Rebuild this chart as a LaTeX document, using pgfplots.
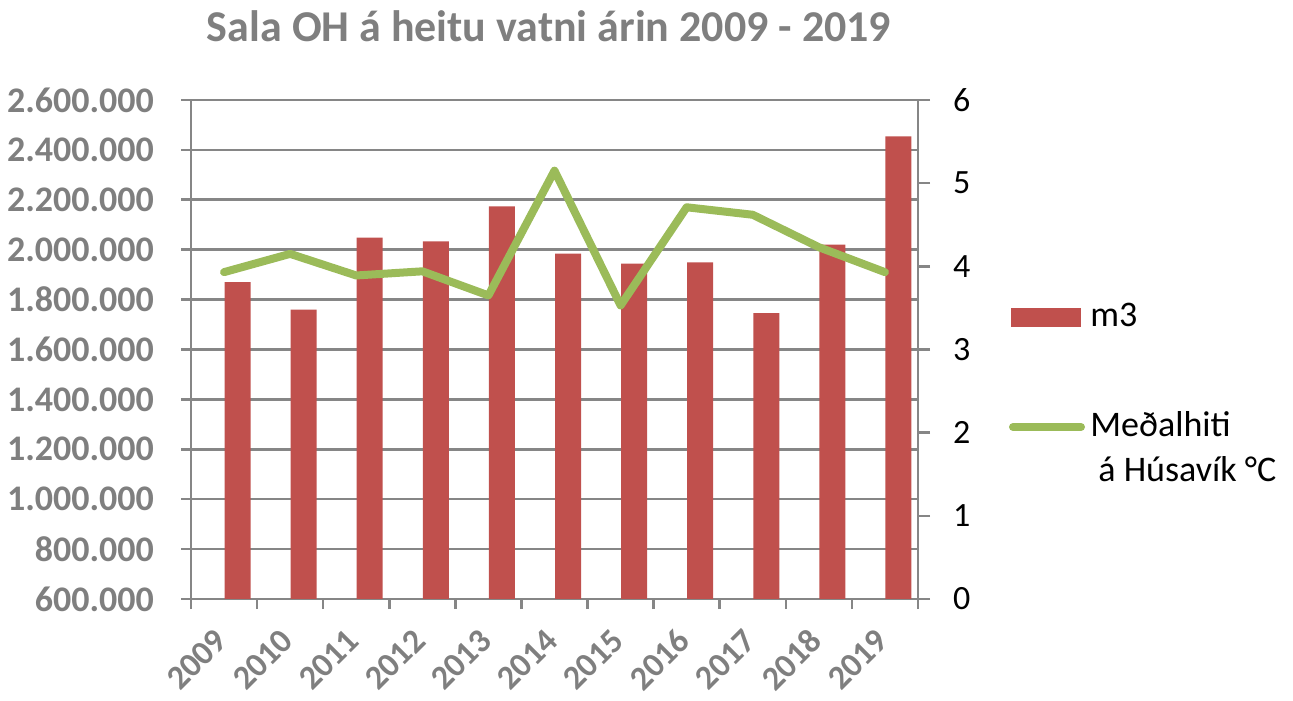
\documentclass[border=0pt]{standalone}
\usepackage{fontspec}
\setmainfont{Carlito}
\usepackage{pgfplots}
\pgfplotsset{compat=1.18}
\definecolor{tgray}{RGB}{127,127,127}
\definecolor{agray}{RGB}{134,134,134}
\definecolor{barred}{RGB}{192,80,77}
\definecolor{lgreen}{RGB}{155,187,89}
\begin{document}
\begin{tikzpicture}
\useasboundingbox (0,0) rectangle (646.5bp,350.5bp);
\begin{axis}[
  at={(95.5bp,51bp)}, anchor=south west, scale only axis,
  width=363.5bp, height=249.5bp,
  xmin=-0.5, xmax=10.5, ymin=600000, ymax=2600000,
  axis x line=bottom, axis y line=left,
  axis line style={agray, line width=1.3bp, -},
  ytick={600000,800000,1000000,1200000,1400000,1600000,1800000,2000000,2200000,2400000,2600000},
  yticklabels={600.000,800.000,1.000.000,1.200.000,1.400.000,1.600.000,1.800.000,2.000.000,2.200.000,2.400.000,2.600.000},
  ymajorgrids, grid style={agray, line width=1.3bp},
  xtick={-0.04,0.96,1.96,2.96,3.96,4.96,5.96,6.96,7.96,8.96,9.96},
  xticklabels={2009,2010,2011,2012,2013,2014,2015,2016,2017,2018,2019},
  major x tick style={draw=none},
  minor xtick={-0.5,0.5,...,10.5},
  tick align=outside, major tick length=5bp, minor tick length=5bp,
  tick style={agray, line width=1.3bp},
  scaled y ticks=false,
  yticklabel style={font=\fontsize{18bp}{21bp}\selectfont\bfseries, text=tgray, xshift=-10bp},
  xticklabel shift=13bp,
  xticklabel style={font=\fontsize{17bp}{20bp}\selectfont\bfseries, text=tgray, rotate=45, anchor=east, inner sep=0pt},
  clip=true,
]
\addplot[ybar, bar width=13bp, bar shift=6.75bp, fill=barred, draw=none] coordinates {
  (0,1870000) (1,1760000) (2,2048000) (3,2033000) (4,2174000) (5,1984000)
  (6,1944000) (7,1949000) (8,1746000) (9,2020000) (10,2454000)};
\end{axis}
\begin{axis}[
  at={(95.5bp,51bp)}, anchor=south west, scale only axis,
  width=363.5bp, height=249.5bp,
  xmin=-0.5, xmax=10.5, ymin=0, ymax=6,
  axis y line=right, axis x line=none,
  axis line style={agray, line width=1.3bp, -},
  ytick={0,1,2,3,4,5,6},
  yticklabels={0,1,2,3,4,5,6},
  tick align=outside, major tick length=6bp,
  tick style={agray, line width=1.3bp},
  yticklabel style={font=\fontsize{17bp}{20bp}\selectfont, text=black, xshift=8bp},
  clip=false,
]
\addplot[lgreen, line width=4bp, line join=round, line cap=round] coordinates {
  (0,3.93) (1,4.15) (2,3.89) (3,3.94) (4,3.65) (5,5.15)
  (6,3.53) (7,4.71) (8,4.62) (9,4.23) (10,3.93)};
\end{axis}
\node[anchor=base, font=\fontsize{22bp}{26bp}\selectfont\bfseries, text=tgray] at (274.5bp,329.5bp) {Sala OH á heitu vatni árin 2009 - 2019};
\fill[barred] (505.5bp,187bp) rectangle (540.5bp,196.5bp);
\node[anchor=base west, inner sep=0pt, font=\fontsize{18bp}{21bp}\selectfont] at (545bp,187.2bp) {m3};
\draw[lgreen, line width=4bp, line cap=round] (506.5bp,137bp) -- (540.5bp,137bp);
\node[anchor=base west, inner sep=0pt, font=\fontsize{18bp}{21bp}\selectfont] at (545bp,132.2bp) {Meðalhiti};
\node[anchor=base west, inner sep=0pt, font=\fontsize{18bp}{21bp}\selectfont] at (549bp,109.7bp) {á Húsavík °C};
\end{tikzpicture}
\end{document}
